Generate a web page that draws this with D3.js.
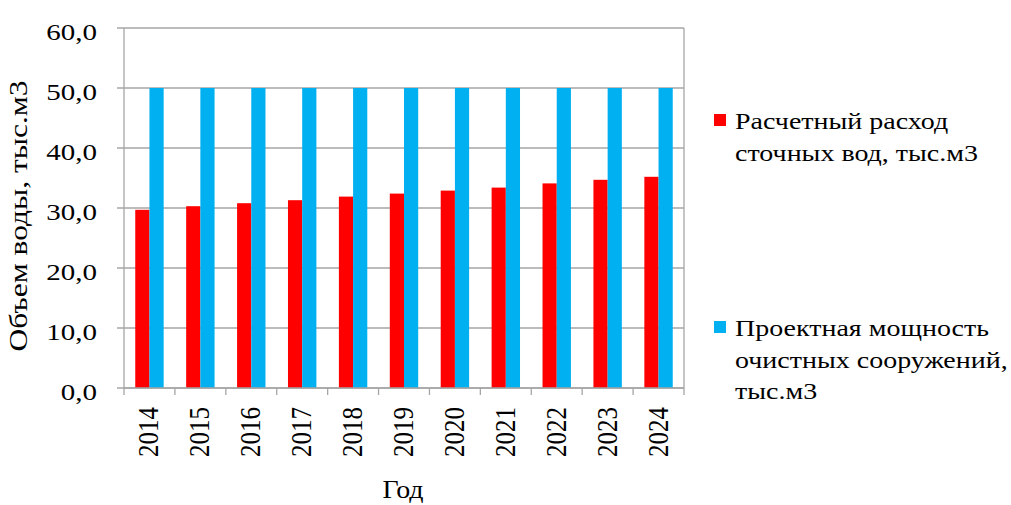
<!DOCTYPE html>
<html>
<head>
<meta charset="utf-8">
<script src="https://cdn.jsdelivr.net/npm/d3@7"></script>
<style>
  body { margin: 0; background: #fff; }
  text { font-family: "Liberation Serif", "Times New Roman", serif; fill: #000; }
</style>
</head>
<body>
<svg width="1011" height="505"></svg>
<script>
const years = ['2014', '2015', '2016', '2017', '2018', '2019', '2020', '2021', '2022', '2023', '2024'];
const flow = [29.7, 30.3, 30.8, 31.3, 31.9, 32.4, 32.9, 33.4, 34.1, 34.7, 35.2];
const capacity = [50, 50, 50, 50, 50, 50, 50, 50, 50, 50, 50];
const seriesNames = ['Расчетный расход', 'Проектная мощность'];
const yTicks = [0, 10, 20, 30, 40, 50, 60];

let svg = d3.select("svg");

let plotLeft = 124, plotRight = 684, plotTop = 28, plotBottom = 388;

let x = d3.scaleBand()
    .domain(years)
    .range([plotLeft, plotRight])
    .paddingInner(0)
    .paddingOuter(0);

let y = d3.scaleLinear()
    .domain([0, 60])
    .range([plotBottom, plotTop]);

let grid = '#a6a6a6';

// the source picture is stretched wider than tall, so text gets a
// separate size along screen x (fx) and screen y (fy)
function label(parent, px, py, str, fx, fy, anchor, rotated) {
    let g = parent.append("g")
        .attr("transform", "translate(" + px + "," + py + ")scale(" + (fx / fy) + ",1)");
    return g.append("text")
        .attr("font-size", fy)
        .attr("text-anchor", anchor)
        .attr("transform", rotated ? "rotate(-90)" : null)
        .text(str);
}

// horizontal gridlines
svg.append("g")
    .selectAll("line")
    .data(yTicks)
    .enter().append("line")
    .attr("x1", plotLeft - 7)
    .attr("x2", plotRight)
    .attr("y1", d => y(d))
    .attr("y2", d => y(d))
    .attr("stroke", grid)
    .attr("stroke-width", 1.3);

// left and right border
[plotLeft, plotRight].forEach(function (px) {
    svg.append("line")
        .attr("x1", px).attr("x2", px)
        .attr("y1", plotTop).attr("y2", plotBottom)
        .attr("stroke", grid).attr("stroke-width", 1.3);
});

let barW = 14.2;
let groupPad = (x.bandwidth() - 2 * barW) / 2;

svg.append("g")
    .selectAll("rect")
    .data(flow)
    .enter().append("rect")
    .attr("x", (d, i) => x(years[i]) + groupPad)
    .attr("y", d => y(d))
    .attr("width", barW)
    .attr("height", d => y(0) - y(d))
    .attr("fill", "#ff0000");

svg.append("g")
    .selectAll("rect")
    .data(capacity)
    .enter().append("rect")
    .attr("x", (d, i) => x(years[i]) + groupPad + barW)
    .attr("y", d => y(d))
    .attr("width", barW)
    .attr("height", d => y(0) - y(d))
    .attr("fill", "#00b0f0");

// bottom axis line + category ticks
svg.append("line")
    .attr("x1", plotLeft).attr("x2", plotRight)
    .attr("y1", plotBottom).attr("y2", plotBottom)
    .attr("stroke", grid).attr("stroke-width", 1.3);

svg.append("g")
    .selectAll("line")
    .data(years.map(d => x(d)).concat([plotRight]))
    .enter().append("line")
    .attr("x1", d => d)
    .attr("x2", d => d)
    .attr("y1", plotBottom)
    .attr("y2", plotBottom + 7)
    .attr("stroke", grid)
    .attr("stroke-width", 1.3);

// y tick labels
let fmt = d => d3.format(".1f")(d).replace('.', ',');
yTicks.forEach(function (t) {
    label(svg, 97, y(t) + 11.5, fmt(t), 29, 23, "end", false);
});

// x tick labels (rotated)
years.forEach(function (yr) {
    label(svg, x(yr) + x.bandwidth() / 2 + 9, 407, yr, 28.5, 25, "end", true);
});

// axis titles
label(svg, 27, 216, "Объем воды, тыс.м3", 25.5, 31.5, "middle", true);
label(svg, 403, 498, "Год", 28, 24.5, "middle", false);

// legend
let legend = [
    { color: "#ff0000", lines: [seriesNames[0], "сточных вод, тыс.м3"], y: 129 },
    { color: "#00b0f0", lines: [seriesNames[1], "очистных сооружений,", "тыс.м3"], y: 336 }
];

legend.forEach(function (l) {
    svg.append("rect")
        .attr("x", 714)
        .attr("y", l.y - 15)
        .attr("width", 12)
        .attr("height", 12)
        .attr("fill", l.color);
    l.lines.forEach(function (t, i) {
        label(svg, 735, l.y + i * 31.5, t, 28, 23, "start", false);
    });
});
</script>
</body>
</html>
